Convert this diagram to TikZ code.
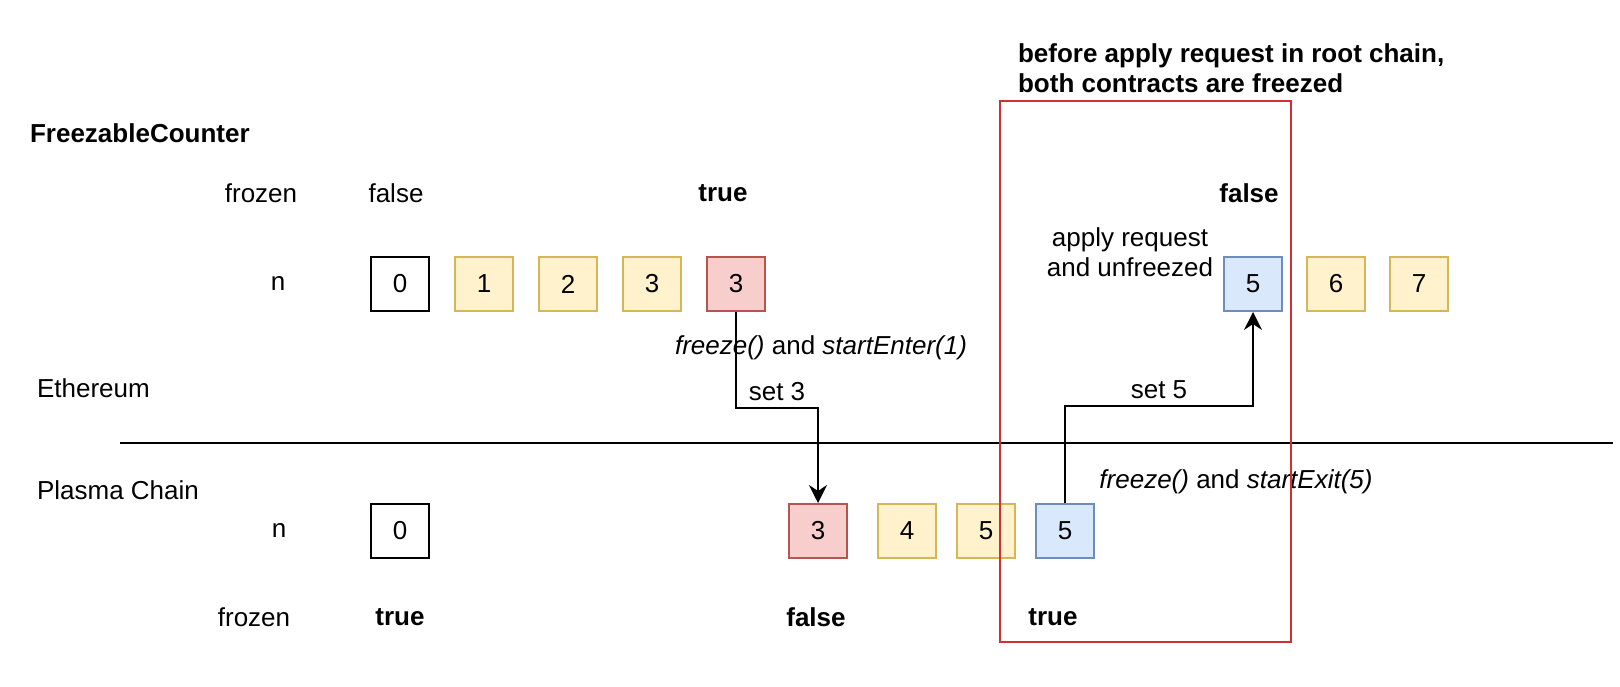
\documentclass[tikz,border=0pt]{standalone}
\usepackage{fontspec}
\setmainfont{Liberation Sans}
\usetikzlibrary{positioning}
\usetikzlibrary{arrows.meta}

\definecolor{updfill}{HTML}{FFF2CC}
\definecolor{updline}{HTML}{D6B656}
\definecolor{frzfill}{HTML}{F8CECC}
\definecolor{frzline}{HTML}{B85450}
\definecolor{appfill}{HTML}{DAE8FC}
\definecolor{appline}{HTML}{6C8EBF}
\definecolor{winred}{HTML}{D03030}

\begin{document}
\begin{tikzpicture}[x=0.5pt,y=-0.5pt,
      font=\fontsize{13}{15}\selectfont,
      >={Stealth[length=9pt,width=9pt,inset=3pt]},
      cell/.style={rectangle,line width=1pt,minimum width=29pt,minimum height=27pt,inner sep=0pt},
      val/.style={cell,draw=black},
      upd/.style={cell,draw=updline,fill=updfill},
      frz/.style={cell,draw=frzline,fill=frzfill},
      app/.style={cell,draw=appline,fill=appfill},
      flag/.style={font=\fontsize{13}{15}\selectfont\bfseries},
      wire/.style={->,draw=black,line width=1pt},
      window/.style={draw=winred,line width=1pt},
  ]
  \useasboundingbox (0,0) rectangle (1620,686);

  % Ethereum
  \node[flag,anchor=west] (title) at (23,133) {FreezableCounter};
  \node (efrozen) at (261,193) {frozen};
  \node (ef0) at (396,193) {false};
  \node[flag] (et) at (723,193) {true};
  \node[flag] (ef1) at (1249,193) {false};
  \node (en) at (278,283) {n};

  \node[val] (e0) at (400,284) {0};
  \node[upd, right=12pt of e0] (e1) {1};
  \node[upd, right=12pt of e1] (e2) {2};
  \node[upd, right=12pt of e2] (e3) {3};
  \node[frz, right=12pt of e3] (e4) {3};

  \node[app] (e5) at (1253,284) {5};
  \node[upd, right=11.5pt of e5] (e6) {6};
  \node[upd, right=11.5pt of e6] (e7) {7};

  \node[align=center] (applied) at (1130,252) {apply request\\and unfreezed};
  \node (enter) at (821,348) {\textit{freeze()} and \textit{startEnter(1)}};
  \node[anchor=west] (eth) at (30,388) {Ethereum};

  % chain border
  \draw[line width=1pt] (120,443) coordinate (borderleft) -- (1613,443) coordinate (borderright);

  % Plasma Chain
  \node[anchor=west] (plasma) at (30,490) {Plasma Chain};
  \node (exit) at (1236,482) {\textit{freeze()} and \textit{startExit(5)}};
  \node (pn) at (279,530) {n};

  \node[val] (p0) at (400,531) {0};
  \node[frz] (p3) at (818,531) {3};
  \node[upd, right=14.5pt of p3] (p4) {4};
  \node[upd, right=9.5pt of p4] (p5) {5};
  \node[app, right=9.5pt of p5] (p6) {5};

  \node (pfrozen) at (254,617) {frozen};
  \node[flag] (pt0) at (400,617) {true};
  \node[flag] (pf) at (816,617) {false};
  \node[flag] (pt1) at (1053,617) {true};

  % messages
  \draw[wire] (e4.south) -- ++(0,96) -| node[pos=0.25,above]{set 3} (p3.north);
  \draw[wire] (p6.north) -- ++(0,-97) -| node[pos=0.25,above]{set 5} (e5.south);

  % frozen window
  \draw[window] (1000,101) rectangle (1291,642);
  \node[flag,anchor=west,align=left] (note) at (1011,68) {before apply request in root chain,\\both contracts are freezed};
\end{tikzpicture}
\end{document}
